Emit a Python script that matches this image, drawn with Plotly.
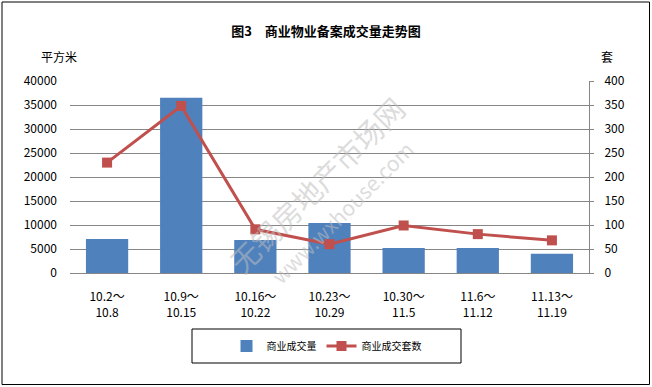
import plotly.graph_objects as go

categories = ["10.2～<br>10.8", "10.9～<br>10.15", "10.16～<br>10.22", "10.23～<br>10.29",
              "10.30～<br>11.5", "11.6～<br>11.12", "11.13～<br>11.19"]
area_values = [7100, 36500, 6900, 10400, 5200, 5200, 4000]
unit_values = [230, 348, 91, 60, 99, 81, 68]

FONT = "Noto Sans CJK SC, SimSun, sans-serif"
GRID = "#868686"

fig = go.Figure()
fig.add_trace(go.Bar(x=categories, y=area_values, name="商业成交量",
                     marker=dict(color="#4F81BD", line=dict(width=0))))
fig.add_trace(go.Scatter(x=categories, y=unit_values, name="商业成交套数", yaxis="y2",
                         mode="lines+markers",
                         line=dict(color="#C0504D", width=3),
                         marker=dict(symbol="square", size=10, color="#C0504D")))

# plot area in pixels: x 70..589, y 81..273
L, R, T, B = 70, 589, 81, 273
W, H = R - L, B - T
def px(x): return (x - L) / W
def py(y): return (B - y) / H

fig.update_layout(
    width=652, height=387,
    margin=dict(l=L, r=652 - R, t=T, b=387 - B, autoexpand=False),
    paper_bgcolor="white", plot_bgcolor="white",
    font=dict(family=FONT, size=12, color="black"),
    bargap=0.43,
    showlegend=True,
    title=dict(text="<b>图3　商业物业备案成交量走势图</b>", x=0.5, xanchor="center",
               y=1 - 31 / 387, yanchor="middle", yref="container",
               font=dict(size=13, family=FONT)),
    xaxis=dict(showline=True, linecolor=GRID, linewidth=1, ticks="",
               tickfont=dict(size=12), ticklabelstandoff=13, showgrid=False, automargin=False),
    yaxis=dict(range=[0, 40000], dtick=5000, tickformat="d", showgrid=True, gridcolor=GRID,
               gridwidth=1, showline=False, ticks="", zeroline=False, ticklabelstandoff=12,
               tickfont=dict(size=12), automargin=False),
    yaxis2=dict(range=[0, 400], dtick=50, tickformat="d", overlaying="y", side="right",
                showgrid=False, showline=True, linecolor=GRID, linewidth=1, ticks="outside",
                ticklen=4, tickcolor=GRID, zeroline=False, ticklabelstandoff=8,
                tickfont=dict(size=12), automargin=False),
    legend=dict(orientation="h", x=326.5 / 652, y=1 - 346 / 387, xref="container",
                yref="container", xanchor="center", yanchor="middle",
                font=dict(size=10), bgcolor="rgba(0,0,0,0)", itemwidth=30),
    shapes=[
        dict(type="rect", xref="paper", yref="paper", x0=px(192), x1=px(461),
             y0=py(329), y1=py(363), line=dict(color="black", width=1)),
        dict(type="rect", xref="paper", yref="paper", x0=px(2), x1=px(649.5),
             y0=py(2), y1=py(384.5), line=dict(color="black", width=1)),
    ],
    annotations=[
        dict(text="平方米", xref="paper", yref="paper", x=px(39), y=py(46),
             showarrow=False, font=dict(size=12)),
        dict(text="套", xref="paper", yref="paper", x=px(615), y=py(46),
             showarrow=False, font=dict(size=12)),
        dict(text="无锡房地产市场网", xref="paper", yref="paper", x=px(316), y=py(184),
             xanchor="center", yanchor="middle",
             showarrow=False, textangle=-45, font=dict(size=29, color="rgba(190,190,190,0.55)")),
        dict(text="www.wxhouse.com", xref="paper", yref="paper", x=px(342), y=py(212),
             xanchor="center", yanchor="middle",
             showarrow=False, textangle=-45, font=dict(size=21, color="rgba(190,190,190,0.55)")),
    ],
)

fig.write_html("out.html", config={"displayModeBar": False},
               post_script="document.body.style.margin='0';document.body.style.overflow='hidden';")
